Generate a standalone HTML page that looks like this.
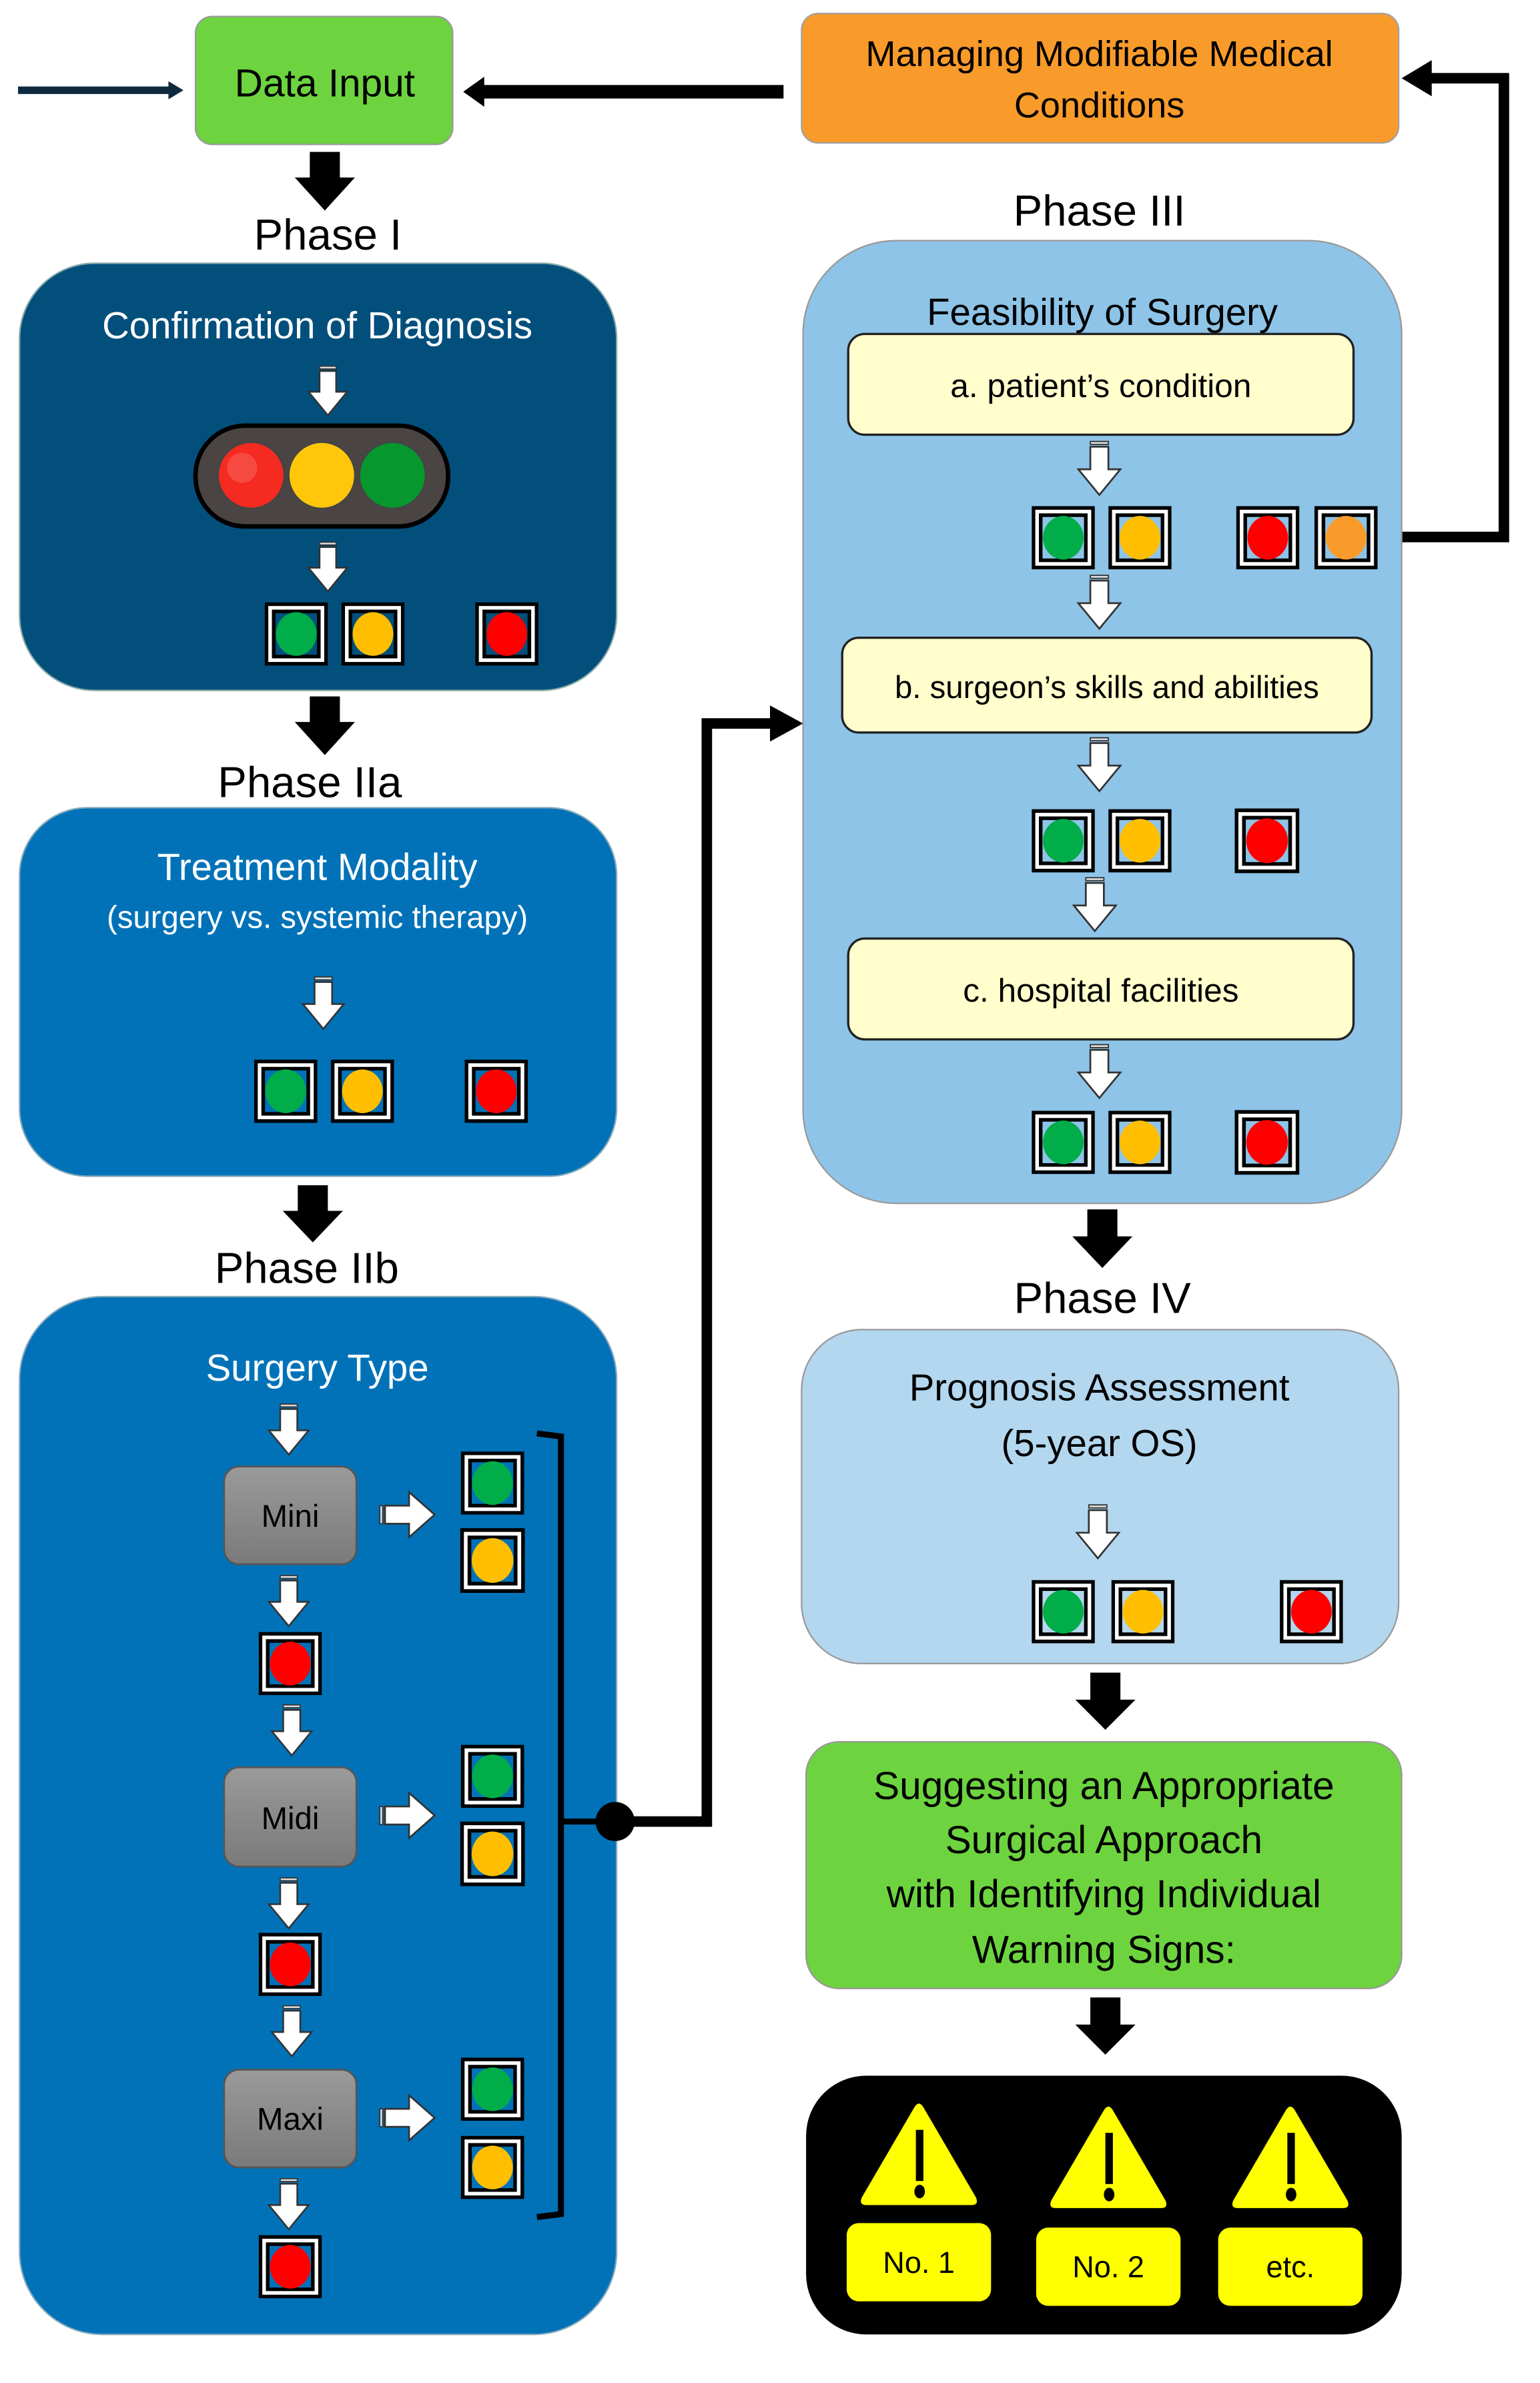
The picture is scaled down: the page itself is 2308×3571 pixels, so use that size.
<!DOCTYPE html>
<html><head><meta charset="utf-8"><style>
html,body{margin:0;padding:0;background:#fff}
svg{display:block}
text{font-family:"Liberation Sans",sans-serif}
</style></head><body>
<svg width="2308" height="3571" viewBox="0 0 1024 1584.3" preserveAspectRatio="none" xmlns="http://www.w3.org/2000/svg">
<defs>
<symbol id="sq" viewBox="0 0 42 42">
<rect x="1.2" y="1.2" width="39.6" height="39.6" fill="#fff" stroke="#000" stroke-width="2.4"/>
<rect x="6" y="6" width="30" height="30" style="fill:var(--bg)" stroke="#000" stroke-width="2.4"/>
<ellipse cx="21" cy="21" rx="13.5" ry="14.5" fill="currentColor"/>
</symbol>
<symbol id="wa" viewBox="0 0 30 37">
<rect x="9" y="0.5" width="12" height="2" fill="#ddd" stroke="#333" stroke-width="0.8"/>
<polygon points="9,4 21,4 21,19 29,19 15,36 1,19 9,19" fill="#fff" stroke="#333" stroke-width="1.2"/>
</symbol>
<symbol id="wr" viewBox="0 0 38 32">
<rect x="0.5" y="10" width="2" height="12" fill="#ddd" stroke="#333" stroke-width="0.8"/>
<polygon points="4,10 20,10 20,1 37,16 20,31 20,22 4,22" fill="#fff" stroke="#333" stroke-width="1.2"/>
</symbol>
<linearGradient id="gb" x1="0" y1="0" x2="0" y2="1"><stop offset="0" stop-color="#9a9a9a"/><stop offset="1" stop-color="#7a7a7a"/></linearGradient>
</defs>

<!-- Data input -->
<rect x="130" y="11" width="171" height="85" rx="11" fill="#6dd43f" stroke="#9a9a9a" stroke-width="1"/>
<text x="216" y="64" font-size="26" text-anchor="middle">Data Input</text>
<line x1="12" y1="60" x2="114" y2="60" stroke="#0d2a40" stroke-width="5"/>
<polygon points="112,54 122,60 112,66" fill="#0d2a40"/>
<line x1="320" y1="61" x2="521" y2="61" stroke="#000" stroke-width="9"/>
<polygon points="308,61 322,51 322,71" fill="#000"/>

<!-- Managing -->
<rect x="533" y="9" width="397" height="86" rx="11" fill="#f99b2a" stroke="#a0a0a0" stroke-width="1"/>
<text x="731" y="44" font-size="24" text-anchor="middle">Managing Modifiable Medical</text>
<text x="731" y="78" font-size="24" text-anchor="middle">Conditions</text>
<polyline points="916,357 1000,357 1000,52 948,52" fill="none" stroke="#000" stroke-width="7"/>
<polygon points="932,52 952,40 952,64" fill="#000"/>

<!-- Phase I -->
<polygon points="206,101 226,101 226,118 236,118 216,140 196,118 206,118" fill="#000"/>
<text x="218" y="166" font-size="29" text-anchor="middle">Phase I</text>
<rect x="13" y="175" width="397" height="284" rx="50" fill="#034f7c" stroke="#8aa" stroke-width="1"/>
<text x="211" y="225" font-size="25" fill="#fff" text-anchor="middle">Confirmation of Diagnosis</text>
<use href="#wa" x="203" y="243" width="30" height="34"/>
<rect x="130" y="283" width="168" height="67" rx="33" fill="#4a4542" stroke="#000" stroke-width="3"/>
<circle cx="167" cy="316" r="22" fill="#f52a20" stroke="#444" stroke-width="1"/>
<circle cx="214" cy="316" r="22" fill="#ffc60a" stroke="#444" stroke-width="1"/>
<circle cx="261" cy="316" r="22" fill="#06972e" stroke="#444" stroke-width="1"/>
<circle cx="161" cy="311" r="10" fill="#fff" opacity="0.15"/>
<use href="#wa" x="203" y="360" width="30" height="34"/>
<g style="--bg:#034f7c">
<use href="#sq" x="176" y="400" width="42" height="43" style="color:#00ad48"/>
<use href="#sq" x="227" y="400" width="42" height="43" style="color:#ffbf00"/>
<use href="#sq" x="316" y="400" width="42" height="43" style="color:#ff0000"/>
</g>

<!-- Phase IIa -->
<polygon points="206,463 226,463 226,480 236,480 216,502 196,480 206,480" fill="#000"/>
<text x="206" y="530" font-size="29" text-anchor="middle">Phase IIa</text>
<rect x="13" y="537" width="397" height="245" rx="45" fill="#0172b8" stroke="#8ab" stroke-width="1"/>
<text x="211" y="585" font-size="25" fill="#fff" text-anchor="middle">Treatment Modality</text>
<text x="211" y="617" font-size="21" fill="#fff" text-anchor="middle">(surgery vs. systemic therapy)</text>
<use href="#wa" x="200" y="649" width="30" height="36"/>
<g style="--bg:#0172b8">
<use href="#sq" x="169" y="704" width="42" height="43" style="color:#00ad48"/>
<use href="#sq" x="220" y="704" width="42" height="43" style="color:#ffbf00"/>
<use href="#sq" x="309" y="704" width="42" height="43" style="color:#ff0000"/>
</g>

<!-- Phase IIb -->
<polygon points="198,788 218,788 218,805 228,805 208,826 188,805 198,805" fill="#000"/>
<text x="204" y="853" font-size="29" text-anchor="middle">Phase IIb</text>
<rect x="13" y="862" width="397" height="690" rx="55" fill="#0172b8" stroke="#8ab" stroke-width="1"/>
<text x="211" y="918" font-size="25" fill="#fff" text-anchor="middle">Surgery Type</text>
<use href="#wa" x="177" y="933" width="30" height="35"/>
<rect x="149" y="975" width="88" height="65" rx="10" fill="url(#gb)" stroke="#555" stroke-width="1.2"/>
<text x="193" y="1015" font-size="21" text-anchor="middle">Mini</text>
<use href="#wr" x="252" y="991" width="38" height="32"/>
<use href="#wa" x="177" y="1047" width="30" height="35"/>
<use href="#wa" x="179" y="1133" width="30" height="35"/>
<rect x="149" y="1175" width="88" height="66" rx="10" fill="url(#gb)" stroke="#555" stroke-width="1.2"/>
<text x="193" y="1216" font-size="21" text-anchor="middle">Midi</text>
<use href="#wr" x="252" y="1191" width="38" height="32"/>
<use href="#wa" x="177" y="1248" width="30" height="35"/>
<use href="#wa" x="179" y="1333" width="30" height="35"/>
<rect x="149" y="1376" width="88" height="65" rx="10" fill="url(#gb)" stroke="#555" stroke-width="1.2"/>
<text x="193" y="1416" font-size="21" text-anchor="middle">Maxi</text>
<use href="#wr" x="252" y="1392" width="38" height="32"/>
<use href="#wa" x="177" y="1448" width="30" height="35"/>
<g style="--bg:#0172b8">
<use href="#sq" x="306" y="965" width="43" height="42" style="color:#00ad48"/>
<use href="#sq" x="306" y="1016" width="43" height="43" style="color:#ffbf00"/>
<use href="#sq" x="172" y="1085" width="42" height="42" style="color:#ff0000"/>
<use href="#sq" x="306" y="1160" width="43" height="42" style="color:#00ad48"/>
<use href="#sq" x="306" y="1211" width="43" height="43" style="color:#ffbf00"/>
<use href="#sq" x="172" y="1285" width="42" height="42" style="color:#ff0000"/>
<use href="#sq" x="306" y="1368" width="43" height="42" style="color:#00ad48"/>
<use href="#sq" x="306" y="1420" width="43" height="42" style="color:#ffbf00"/>
<use href="#sq" x="172" y="1486" width="42" height="42" style="color:#ff0000"/>
</g>
<polyline points="357,953 373,955 373,1472 357,1474" fill="none" stroke="#000" stroke-width="4"/>
<line x1="373" y1="1211" x2="409" y2="1211" stroke="#000" stroke-width="4"/>
<circle cx="409" cy="1211" r="13" fill="#000"/>
<polyline points="409,1211 470,1211 470,481 518,481" fill="none" stroke="#000" stroke-width="7"/>
<polygon points="534,481 512,469 512,493" fill="#000"/>

<!-- Phase III -->
<text x="731" y="150" font-size="29" text-anchor="middle">Phase III</text>
<rect x="534" y="160" width="398" height="640" rx="62" fill="#8ec4e8" stroke="#999" stroke-width="1"/>
<text x="733" y="216" font-size="25" text-anchor="middle">Feasibility of Surgery</text>
<rect x="564" y="222" width="336" height="67" rx="11" fill="#fffecc" stroke="#222" stroke-width="1.5"/>
<text x="732" y="264" font-size="22" text-anchor="middle">a. patient’s condition</text>
<use href="#wa" x="716" y="293" width="30" height="37"/>
<g style="--bg:#8ec4e8">
<use href="#sq" x="686" y="336" width="42" height="43" style="color:#00ad48"/>
<use href="#sq" x="737" y="336" width="42" height="43" style="color:#ffbf00"/>
<use href="#sq" x="822" y="336" width="42" height="43" style="color:#ff0000"/>
<use href="#sq" x="874" y="336" width="42" height="43" style="color:#f99b2a"/>
</g>
<use href="#wa" x="716" y="382" width="30" height="37"/>
<rect x="560" y="424" width="352" height="63" rx="11" fill="#fffecc" stroke="#222" stroke-width="1.5"/>
<text x="736" y="464" font-size="21" text-anchor="middle">b. surgeon’s skills and abilities</text>
<use href="#wa" x="716" y="490" width="30" height="37"/>
<g style="--bg:#8ec4e8">
<use href="#sq" x="686" y="537" width="42" height="44" style="color:#00ad48"/>
<use href="#sq" x="737" y="537" width="42" height="44" style="color:#ffbf00"/>
<use href="#sq" x="821" y="537" width="43" height="44" style="color:#ff0000"/>
</g>
<use href="#wa" x="713" y="583" width="30" height="37"/>
<rect x="564" y="624" width="336" height="67" rx="11" fill="#fffecc" stroke="#222" stroke-width="1.5"/>
<text x="732" y="666" font-size="22" text-anchor="middle">c. hospital facilities</text>
<use href="#wa" x="716" y="694" width="30" height="37"/>
<g style="--bg:#8ec4e8">
<use href="#sq" x="686" y="738" width="42" height="43" style="color:#00ad48"/>
<use href="#sq" x="737" y="738" width="42" height="43" style="color:#ffbf00"/>
<use href="#sq" x="821" y="738" width="43" height="43" style="color:#ff0000"/>
</g>

<!-- Phase IV -->
<polygon points="723,804 743,804 743,822 753,822 733,843 713,822 723,822" fill="#000"/>
<text x="733" y="873" font-size="29" text-anchor="middle">Phase IV</text>
<rect x="533" y="884" width="397" height="222" rx="40" fill="#b3d7ef" stroke="#999" stroke-width="1"/>
<text x="731" y="931" font-size="25" text-anchor="middle">Prognosis Assessment</text>
<text x="731" y="968" font-size="25" text-anchor="middle">(5-year OS)</text>
<use href="#wa" x="715" y="1000" width="30" height="37"/>
<g style="--bg:#b3d7ef">
<use href="#sq" x="686" y="1050" width="42" height="43" style="color:#00ad48"/>
<use href="#sq" x="739" y="1050" width="42" height="43" style="color:#ffbf00"/>
<use href="#sq" x="851" y="1050" width="42" height="43" style="color:#ff0000"/>
</g>

<polygon points="725,1112 745,1112 745,1130 755,1130 735,1150 715,1130 725,1130" fill="#000"/>
<rect x="536" y="1158" width="396" height="164" rx="22" fill="#6dd43f" stroke="#999" stroke-width="1"/>
<text x="734" y="1196" font-size="26" text-anchor="middle">Suggesting an Appropriate</text>
<text x="734" y="1232" font-size="26" text-anchor="middle">Surgical Approach</text>
<text x="734" y="1268" font-size="26" text-anchor="middle">with Identifying Individual</text>
<text x="734" y="1305" font-size="26" text-anchor="middle">Warning Signs:</text>

<polygon points="725,1328 745,1328 745,1346 755,1346 735,1366 715,1346 725,1346" fill="#000"/>
<rect x="536" y="1380" width="396" height="172" rx="40" fill="#000"/>
<g fill="#ffff00">
<path d="M608,1401 Q611,1396 614,1401 L649,1461 Q651,1466 646,1466 L576,1466 Q571,1466 573,1461 Z"/>
<path d="M734,1403 Q737,1398 740,1403 L775,1463 Q777,1468 772,1468 L702,1468 Q697,1468 699,1463 Z"/>
<path d="M855,1403 Q858,1398 861,1403 L896,1463 Q898,1468 893,1468 L823,1468 Q818,1468 820,1463 Z"/>
</g>
<g fill="#000">
<rect x="609" y="1416" width="5" height="34"/><ellipse cx="611.5" cy="1457" rx="3.5" ry="4.5"/>
<rect x="735" y="1418" width="5" height="34"/><ellipse cx="737.5" cy="1459" rx="3.5" ry="4.5"/>
<rect x="856" y="1418" width="5" height="34"/><ellipse cx="858.5" cy="1459" rx="3.5" ry="4.5"/>
</g>
<rect x="563" y="1478" width="96" height="52" rx="8" fill="#ffff00"/>
<rect x="689" y="1481" width="96" height="52" rx="8" fill="#ffff00"/>
<rect x="810" y="1481" width="96" height="52" rx="8" fill="#ffff00"/>
<text x="611" y="1511" font-size="20" text-anchor="middle">No. 1</text>
<text x="737" y="1514" font-size="20" text-anchor="middle">No. 2</text>
<text x="858" y="1514" font-size="20" text-anchor="middle">etc.</text>
</svg>
</body></html>
